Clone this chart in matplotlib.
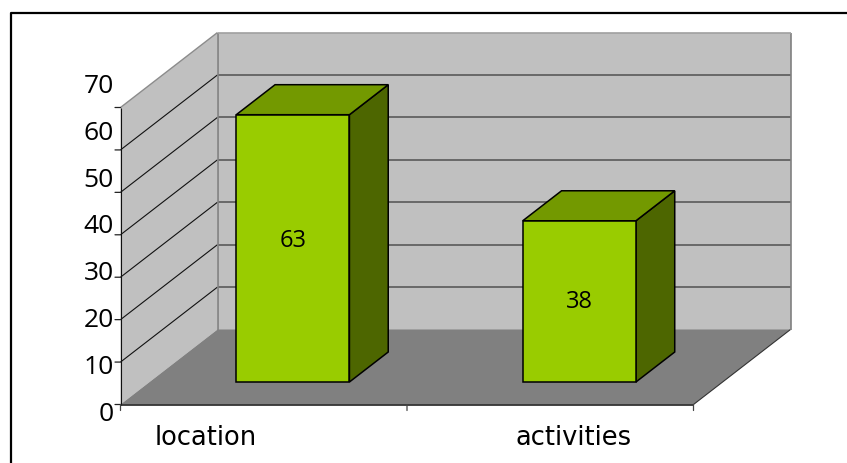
import matplotlib
matplotlib.use("Agg")
import matplotlib.pyplot as plt
from matplotlib.lines import Line2D
from matplotlib.patches import Polygon

categories = ["location", "activities"]
values = [63, 38]
y_ticks = [0, 10, 20, 30, 40, 50, 60, 70]

WALL = "#c0c0c0"
FLOOR = "#808080"
BAR_FRONT = "#99cc00"
BAR_TOP = "#739900"
BAR_SIDE = "#4d6600"

W, H = 847, 464
LEFT, RIGHT, BOTTOM, TOP = 120.5, 693.5, 405.5, 108.5
PX = 0.72  # points per pixel at dpi 100

# how far the back wall is shifted, in data units
DX = 97 / ((RIGHT - LEFT) / 2)
DY = 75 / ((BOTTOM - TOP) / 70)


def proj(x, y, d):
    return (x + DX * d, y + DY * d)


fig = plt.figure(figsize=(W / 100, H / 100), dpi=100)

# frame is cut off at the right and bottom of the picture
fig.add_artist(Line2D([10.7 / W, 10.7 / W, 1], [0, 1 - 14.2 / H, 1 - 14.2 / H],
                      color="black", linewidth=1.6, transform=fig.transFigure))

ax = fig.add_axes([LEFT / W, 1 - BOTTOM / H, (RIGHT - LEFT) / W, (BOTTOM - TOP) / H])
ax.set_xlim(0, len(categories))
ax.set_ylim(0, y_ticks[-1])
ax.axis("off")


def face(points, color, edge, lw=1.0, z=1):
    ax.add_patch(Polygon([proj(*p) for p in points], closed=True, facecolor=color,
                         edgecolor=edge, linewidth=lw, zorder=z, clip_on=False))


def line(a, b, color, lw=1.0, z=2):
    p, q = proj(*a), proj(*b)
    ax.plot([p[0], q[0]], [p[1], q[1]], color=color, linewidth=lw, zorder=z,
            clip_on=False, solid_capstyle="butt")


def tick(xy, dx, dy, color):
    ax.annotate("", xy=xy, xytext=(dx * PX, dy * PX), textcoords="offset points",
                arrowprops=dict(arrowstyle="-", color=color, lw=0.9, shrinkA=0, shrinkB=0),
                annotation_clip=False)


n = len(categories)
top = y_ticks[-1]

# walls and floor
face([(0, 0, 0), (0, top, 0), (0, top, 1), (0, 0, 1)], WALL, "none", 0)
face([(0, 0, 1), (0, top, 1), (n, top, 1), (n, 0, 1)], WALL, "none", 0)
face([(0, 0, 0), (n, 0, 0), (n, 0, 1), (0, 0, 1)], FLOOR, "none", 0)

# gridlines
for t in y_ticks[1:-1]:
    line((0, t, 0), (0, t, 1), "#111111", 0.8)
    line((0, t, 1), (n, t, 1), "#505050", 1.1)
line((n, 0, 0), (n, 0, 1), "#333333", 0.8)

# wall edges
line((0, 0, 1), (0, top, 1), "#808080", 1.2)
line((n, 0, 1), (n, top, 1), "#808080", 1.2)
line((0, top, 0), (0, top, 1), "#8c8c8c", 1.0)
line((0, top, 1), (n, top, 1), "#a0a0a0", 1.2)

# axes lines and ticks
line((0, 0, 0), (0, top, 0), "#111111", 0.8, 3)
line((0, 0, 0), (n, 0, 0), "#222222", 1.2, 3)
for t in y_ticks:
    tick((0, t), -5.5, 0, "#222222")
    # labels are spread wider than the ticks in the original
    shift = 6 - 4.45 * t / 10
    ax.annotate(str(t), xy=(0, t), xytext=(-7 * PX, -shift * PX), textcoords="offset points",
                ha="right", va="center_baseline", fontsize=19, family="Open Sans",
                color="black", annotation_clip=False)
for i in range(n + 1):
    tick((i, 0), 0, -6, "#444444")

# bars
BAR_W = 0.395
D0, D1 = 0.3, 0.7
for i, (name, v) in enumerate(zip(categories, values)):
    x0, x1 = i + 0.5 - BAR_W / 2, i + 0.5 + BAR_W / 2
    face([(x1, 0, D0), (x1, 0, D1), (x1, v, D1), (x1, v, D0)], BAR_SIDE, "black", 1.1, 4)
    face([(x0, v, D0), (x1, v, D0), (x1, v, D1), (x0, v, D1)], BAR_TOP, "black", 1.1, 4)
    face([(x0, 0, D0), (x1, 0, D0), (x1, v, D0), (x0, v, D0)], BAR_FRONT, "black", 1.1, 5)
    cx, cy = proj(i + 0.5, v * 0.576 - 2, D0)
    ax.text(cx, cy, str(v), ha="center", va="center_baseline", fontsize=17, family="Open Sans",
            color="black", zorder=6)
    # category labels sit off-centre in the original
    ax.annotate(name, xy=(i + 0.5, 0), xytext=((-58 + 81 * i) * PX, -33 * PX),
                textcoords="offset points", ha="center", va="center", fontsize=18.5,
                family="DejaVu Sans", color="black", annotation_clip=False)

fig.savefig("out.png", dpi=100)
